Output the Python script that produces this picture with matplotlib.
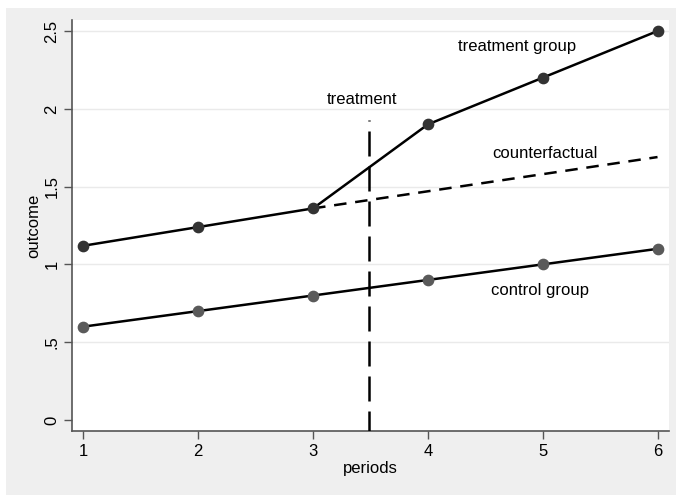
import matplotlib.pyplot as plt
from matplotlib.patches import Rectangle

# --- data ---
periods = [1, 2, 3, 4, 5, 6]
treatment_group = [1.12, 1.24, 1.36, 1.90, 2.20, 2.50]
control_group = [0.60, 0.70, 0.80, 0.90, 1.00, 1.10]
cf_periods = [3, 6]
counterfactual = [1.36, 1.69]
treat_time = 3.49
treat_line_top = 1.93

y_ticks = [0, 0.5, 1, 1.5, 2, 2.5]
y_ticklabels = ["0", ".5", "1", "1.5", "2", "2.5"]

BG = "#EFEFEF"
GRID = "#EAEAEA"
AXIS = "#555555"

plt.rcParams["font.family"] = ["Liberation Sans", "DejaVu Sans"]

fig = plt.figure(figsize=(6.76, 4.95), dpi=100, facecolor="white")
# grey outer region, slightly inset like the Stata export
bg_rect = Rectangle((6 / 676, 0), 670 / 676, 487 / 495,
                    transform=fig.transFigure, facecolor=BG,
                    edgecolor="none", zorder=-10)
fig.add_artist(bg_rect)

ax = fig.add_axes([72 / 676, 64 / 495, 597 / 676, 411 / 495])
ax.set_facecolor("white")

ax.plot(periods, treatment_group, color="black", lw=1.8, zorder=3)
ax.scatter(periods, treatment_group, s=55, color="#333333", zorder=4)
ax.plot(periods, control_group, color="black", lw=1.8, zorder=3)
ax.scatter(periods, control_group, s=55, color="#5a5a5a", zorder=4)
ax.plot(cf_periods, counterfactual, color="black", lw=1.8,
        dashes=(5, 3.5), zorder=3)
ax.plot([treat_time, treat_time], [-0.1, treat_line_top], color="black",
        lw=1.8, dashes=(10, 4), zorder=3)

ax.text(3.43, 2.06, "treatment", ha="center", va="center", fontsize=12)
ax.text(4.78, 2.40, "treatment group", ha="center", va="center", fontsize=12)
ax.text(5.02, 1.71, "counterfactual", ha="center", va="center", fontsize=12)
ax.text(4.98, 0.835, "control group", ha="center", va="center", fontsize=12)

ax.set_xlim(0.9, 6.1)
ax.set_ylim(-0.071, 2.571)
ax.set_xticks(periods)
ax.set_yticks(y_ticks)
ax.set_yticklabels(y_ticklabels, rotation=90, va="center")
for yv in y_ticks[1:]:
    ax.axhline(yv, color=GRID, lw=1, zorder=1)

for side in ["top", "right"]:
    ax.spines[side].set_visible(False)
for side in ["left", "bottom"]:
    ax.spines[side].set_color(AXIS)
    ax.spines[side].set_linewidth(1.2)
ax.tick_params(axis="both", direction="out", length=6, width=1,
               color=AXIS, labelsize=12, pad=3)

ax.set_xlabel("periods", fontsize=12, labelpad=2)
ax.set_ylabel("outcome", fontsize=12, labelpad=2)

fig.savefig("out.png", dpi=100, facecolor="white")
